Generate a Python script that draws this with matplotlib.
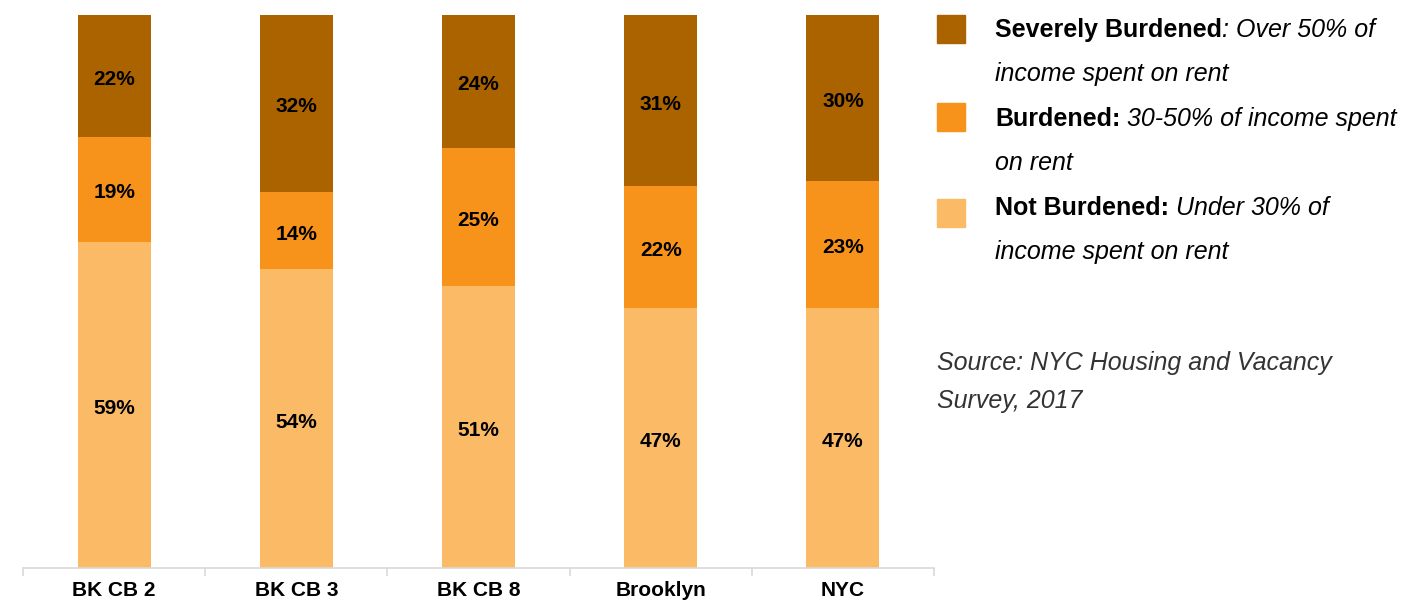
import matplotlib
matplotlib.use("Agg")
import matplotlib.pyplot as plt
from matplotlib.patches import Rectangle
import numpy as np

# ── data ─────────────────────────────────────────────────────────────────────
categories = ["BK CB 2", "BK CB 3", "BK CB 8", "Brooklyn", "NYC"]
not_burdened = [59, 54, 51, 47, 47]
burdened = [19, 14, 25, 22, 23]
severely = [22, 32, 24, 31, 30]

series = [not_burdened, burdened, severely]
colors = ["#FBBA66", "#F7931A", "#AB6300"]

legend_rows = [
    ("Severely Burdened", ": Over 50% of", "income spent on rent"),
    ("Burdened:", " 30-50% of income spent", "on rent"),
    ("Not Burdened:", " Under 30% of", "income spent on rent"),
]
legend_colors = ["#AB6300", "#F7931A", "#FBBA66"]
source_lines = ["Source: NYC Housing and Vacancy", "Survey, 2017"]

plt.rcParams["font.family"] = ["Liberation Sans", "DejaVu Sans"]

W, H = 1405, 601
fig = plt.figure(figsize=(W / 100, H / 100), dpi=100)


def fx(px):
    return px / W


def fy(py):
    return 1 - py / H


ax = fig.add_axes([fx(23), fy(568), fx(934) - fx(23), fy(15) - fy(568)])

LABEL_SIZE = 15
# half the cap height, in points, so labels sit visually centred
cap_half = LABEL_SIZE * 0.716 / 2

x = np.arange(len(categories))
bottom = np.zeros(len(categories))
for vals, col in zip(series, colors):
    vals = np.asarray(vals, dtype=float)
    ax.bar(x, vals, bottom=bottom, width=0.4, color=col, zorder=2)
    for xi, b, v in zip(x, bottom, vals):
        ax.annotate(f"{int(v)}%", (xi, b + v / 2), xytext=(0, -cap_half - 1),
                    textcoords="offset points", ha="center", va="baseline",
                    fontsize=LABEL_SIZE, fontweight="bold", color="black",
                    zorder=3)
    bottom += vals

ax.set_xlim(-0.5, len(categories) - 0.5)
ax.set_ylim(0, 100)
for side in ("left", "right", "top"):
    ax.spines[side].set_visible(False)
ax.spines["bottom"].set_color("#D9D9D9")
ax.spines["bottom"].set_linewidth(1.2)
ax.set_yticks([])
ax.set_xticks(x)
ax.set_xticklabels(categories, fontsize=LABEL_SIZE, fontweight="bold")
ax.tick_params(axis="x", which="major", length=0, pad=9.5)
ax.set_xticks(np.arange(-0.5, len(categories)), minor=True)
ax.tick_params(axis="x", which="minor", length=6, color="#D9D9D9", width=1.2)

# ── legend (manual, mixed bold / italic) ─────────────────────────────────────
renderer = fig.canvas.get_renderer()
row_base = [37, 126, 215]
patch_y = [15, 103, 199]
for (bold, ital, second), col, by, py in zip(legend_rows, legend_colors, row_base, patch_y):
    fig.add_artist(Rectangle((fx(937), fy(py + 28)), fx(28), fy(py) - fy(py + 28),
                             transform=fig.transFigure, color=col))
    t = fig.text(fx(995), fy(by), bold, fontsize=18, fontweight="bold",
                 va="baseline", ha="left")
    bb = t.get_window_extent(renderer=renderer)
    fig.text(bb.x1 / fig.dpi / fig.get_figwidth(), fy(by), ital, fontsize=18,
             style="italic", va="baseline", ha="left")
    fig.text(fx(995), fy(by + 44), second, fontsize=18, style="italic",
             va="baseline", ha="left")

for i, line in enumerate(source_lines):
    fig.text(fx(937), fy(370 + 38 * i), line, fontsize=18,
             style="italic", color="#333333", va="baseline", ha="left")

fig.savefig("out.png", dpi=100)
